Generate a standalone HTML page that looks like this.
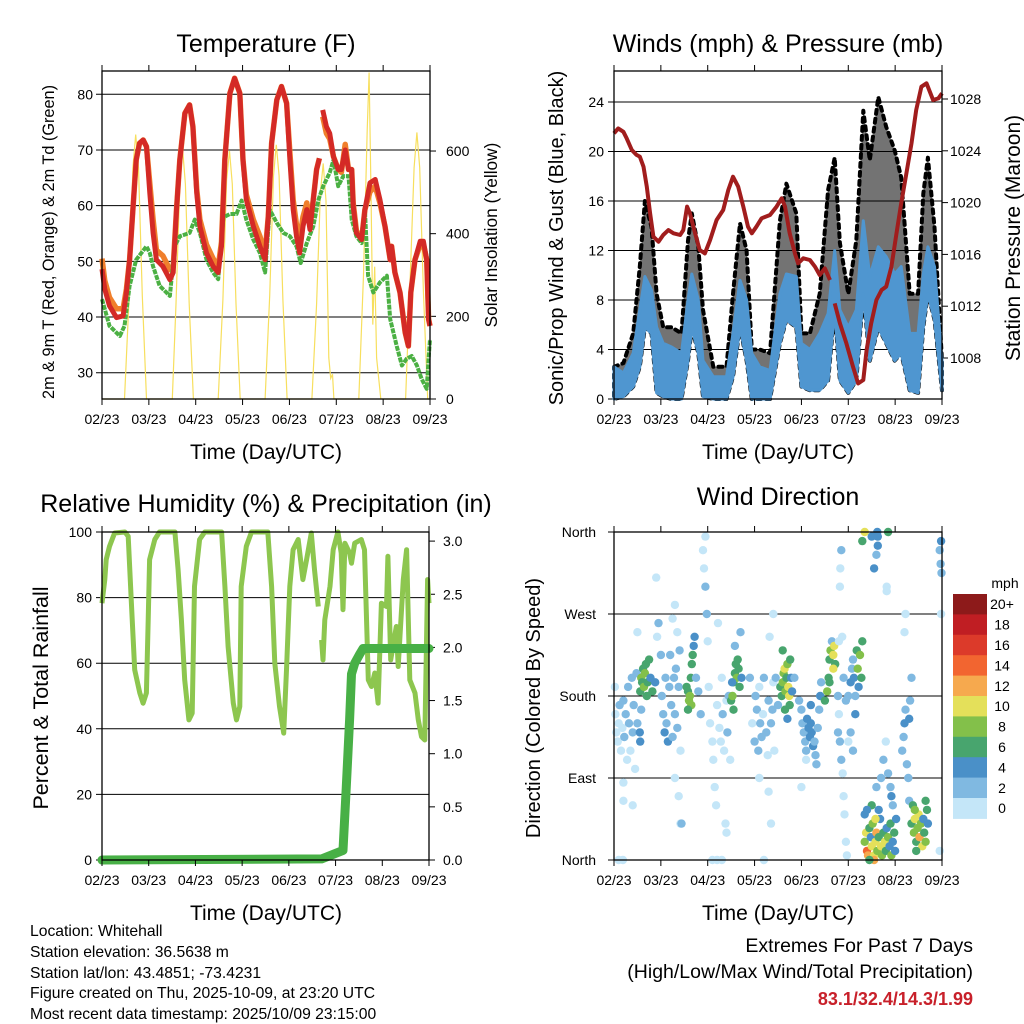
<!DOCTYPE html>
<html><head><meta charset="utf-8">
<style>
html,body{margin:0;padding:0;background:#fff;}
svg{display:block;font-family:"Liberation Sans",Arial,sans-serif;}
</style></head>
<body>
<svg id="chart" width="1024" height="1024" viewBox="0 0 1024 1024" xmlns="http://www.w3.org/2000/svg">
<rect width="1024" height="1024" fill="#fff"/>
<g id="g1"></g>
<g id="g2"></g>
<g id="g3"></g>
<g id="g4"></g>
<text x="266" y="52" font-size="25" text-anchor="middle">Temperature (F)</text>
<text x="778" y="52" font-size="25" text-anchor="middle">Winds (mph) &amp; Pressure (mb)</text>
<text x="266" y="512" font-size="25" text-anchor="middle">Relative Humidity (%) &amp; Precipitation (in)</text>
<text x="778" y="505" font-size="25" text-anchor="middle">Wind Direction</text>
<text x="266" y="459" font-size="21" text-anchor="middle">Time (Day/UTC)</text>
<text x="778" y="459" font-size="21" text-anchor="middle">Time (Day/UTC)</text>
<text x="266" y="920" font-size="21" text-anchor="middle">Time (Day/UTC)</text>
<text x="778" y="920" font-size="21" text-anchor="middle">Time (Day/UTC)</text>
<text transform="translate(54,242) rotate(-90)" font-size="16.3" text-anchor="middle">2m &amp; 9m T (Red, Orange) &amp; 2m Td (Green)</text>
<text transform="translate(497,235) rotate(-90)" font-size="17.3" text-anchor="middle">Solar Insolation (Yellow)</text>
<text transform="translate(563,238) rotate(-90)" font-size="20" text-anchor="middle">Sonic/Prop Wind &amp; Gust (Blue, Black)</text>
<text transform="translate(1020,238) rotate(-90)" font-size="21" text-anchor="middle">Station Pressure (Maroon)</text>
<text transform="translate(48,698) rotate(-90)" font-size="21.5" text-anchor="middle">Percent &amp; Total Rainfall</text>
<text transform="translate(540,708) rotate(-90)" font-size="20" text-anchor="middle">Direction (Colored By Speed)</text>
<g font-size="15.7">
<text x="30" y="936">Location: Whitehall</text>
<text x="30" y="957">Station elevation: 36.5638 m</text>
<text x="30" y="978">Station lat/lon: 43.4851; -73.4231</text>
<text x="30" y="998">Figure created on Thu, 2025-10-09, at 23:20 UTC</text>
<text x="30" y="1019">Most recent data timestamp: 2025/10/09 23:15:00</text>
</g>
<text x="973" y="952" font-size="19.5" text-anchor="end">Extremes For Past 7 Days</text>
<text x="973" y="978" font-size="19.5" text-anchor="end">(High/Low/Max Wind/Total Precipitation)</text>
<text x="973" y="1005" font-size="18" font-weight="bold" fill="#c8202a" text-anchor="end">83.1/32.4/14.3/1.99</text>
</svg>
<script>
// ---------- data ----------
const dayLabels = ["02/23","03/23","04/23","05/23","06/23","07/23","08/23","09/23"];
const tempTicks = [30,40,50,60,70,80];
const solarTicks = [0,200,400,600];
const windTicks = [0,4,8,12,16,20,24];
const pressTicks = [1008,1012,1016,1020,1024,1028];
const rhTicks = [0,20,40,60,80,100];
const rainTicks = ["0.0","0.5","1.0","1.5","2.0","2.5","3.0"];
const dirTicks = ["North","East","South","West","North"];
const speedLabels = ["20+","18","16","14","12","10","8","6","4","2","0"];
const speedColors = ["#8d1a1a","#c01e23","#dc3a2a","#f26530","#f6a94e","#e4e05a","#83c04a","#48a56e","#4a90c8","#80b9e1","#c4e6f8"];

const tDay = [0,.06,.16,.31,.45,.52,.59,.66,.73,.80,.88,.95,1.02,1.09,1.16,1.30,1.45,1.52,1.59,1.66,1.77,1.87,1.94,2.02,2.09,2.23,2.37,2.48,2.55,2.62,2.73,2.83,2.94,3.01,3.08,3.23,3.37,3.48,3.55,3.62,3.73,3.83,3.94,4.01,4.08,4.15,4.22,4.29,4.37,4.44,4.51,4.58,4.64,4.66,4.71,4.79,4.86,4.94,5.04,5.11,5.19,5.26,5.33,5.36,5.43,5.54,5.61,5.72,5.83,5.93,6.04,6.15,6.18,6.25,6.36,6.47,6.54,6.59,6.68,6.79,6.86,6.93,6.97,7.0];
const tRed = [48.6,45.0,42.0,39.9,40.2,44.4,50.3,59.3,68.2,71.2,71.8,70.6,62.3,55.1,50.3,49.1,46.7,48.0,59.3,68.2,76.6,78.1,74.2,62.3,56.3,51.5,49.1,48.0,52.7,68.2,80.2,82.9,80.2,68.2,61.1,56.3,52.7,50.3,58.1,71.2,79.0,81.4,78.4,68.2,59.3,54.5,51.5,56.3,59.3,55.7,61.1,66.5,68.5,null,77.2,74.2,73.0,68.8,66.5,66.5,70.0,66.5,66.5,59.9,55.1,53.9,59.3,64.1,64.7,61.1,56.3,50.3,52.7,48.0,44.4,37.2,34.8,44.4,50.3,53.6,53.6,50.3,39.6,38.4];
const tOrange = [50.5,46.5,43.5,41.5,41.5,45.0,50.3,59.3,68.2,71.2,71.8,70.6,64.0,57.5,52.0,51.0,48.5,49.0,59.3,68.2,76.6,78.1,74.2,63.0,57.5,53.0,50.5,49.0,53.5,68.2,80.2,82.9,80.2,68.2,62.0,57.5,54.5,51.5,58.1,71.2,79.0,81.4,78.4,69.5,61.0,56.5,54.0,58.0,60.5,56.5,61.1,66.5,68.5,null,76.0,73.0,72.0,68.8,66.5,66.0,71.0,66.5,66.5,60.5,55.5,53.9,59.3,62.5,63.5,60.5,56.3,50.3,52.7,48.0,44.4,37.2,34.8,44.4,50.3,53.0,53.0,50.3,39.6,38.4];
const dDay = [0,.16,.38,.48,.59,.73,.95,1.02,1.09,1.23,1.45,1.55,1.66,1.87,1.98,2.09,2.23,2.37,2.48,2.59,2.73,2.87,2.98,3.08,3.23,3.37,3.48,3.58,3.73,3.87,4.01,4.15,4.24,4.37,4.51,4.62,4.72,4.86,4.94,5.04,5.15,5.26,5.33,5.43,5.54,5.61,5.68,5.79,5.93,6.08,6.15,6.29,6.40,6.50,6.61,6.72,6.82,6.93,6.97,7.0];
const tDew = [43.2,38.4,36.6,38.4,45.6,50.3,52.7,51.5,49.1,45.6,43.8,52.7,54.5,55.1,57.5,55.1,50.3,48.0,46.8,57.9,58.5,58.5,60.9,57.5,53.9,51.5,48.0,59.3,56.9,55.1,54.5,52.7,49.7,53.3,56.3,61.1,63.5,65.9,68.2,63.5,65.3,65.3,57.5,54.5,53.3,59.3,47.4,44.4,46.2,47.4,39.6,34.8,31.3,32.5,33.0,31.3,28.9,27.1,32.5,36.0];
const sDay = [0,.48,.58,.66,.72,.78,.86,.95,1.50,1.58,1.66,1.72,1.78,1.86,1.95,2.48,2.58,2.66,2.72,2.78,2.86,2.95,3.48,3.58,3.66,3.72,3.78,3.86,3.95,4.48,4.58,4.66,4.72,4.78,4.84,4.88,4.92,4.95,5.48,5.58,5.66,5.70,5.74,5.78,5.82,5.86,5.95,6.48,6.58,6.66,6.72,6.78,6.86,6.95,7.0];
const solar = [0,0,250,560,640,560,250,0,0,230,520,605,520,230,0,0,240,530,600,520,230,0,0,250,540,615,540,240,0,0,230,500,570,480,100,50,60,0,0,300,650,790,500,180,320,100,0,0,300,560,645,560,260,0,0];

const pDay = [0,.09,.20,.27,.38,.48,.55,.63,.70,.77,.84,.95,1.05,1.16,1.27,1.41,1.48,1.56,1.62,1.73,1.83,1.94,2.05,2.19,2.33,2.44,2.54,2.65,2.76,2.86,2.94,3.04,3.15,3.33,3.47,3.58,3.65,3.75,3.86,3.93,4.04,4.18,4.29,4.39,4.50,4.61,4.66,4.71,4.82,4.96,5.10,5.21,5.32,5.39,5.49,5.60,5.71,5.81,5.92,6.03,6.13,6.24,6.35,6.45,6.56,6.67,6.74,6.81,6.92,7.0];
const pressure = [1025.35,1025.73,1025.47,1024.96,1024.06,1023.68,1023.55,1022.77,1021.23,1019.17,1017.37,1016.98,1017.50,1017.88,1017.63,1017.50,1017.88,1019.69,1019.17,1017.63,1016.34,1016.08,1017.11,1018.66,1019.43,1020.97,1022.00,1021.23,1019.69,1018.14,1017.63,1018.14,1018.79,1019.04,1019.69,1020.33,1019.69,1017.63,1016.08,1015.31,1015.70,1015.57,1015.05,1014.41,1014.92,1014.02,null,1012.22,1010.68,1009.13,1007.33,1006.04,1006.30,1008.62,1010.68,1012.48,1013.25,1013.51,1015.05,1017.63,1019.94,1022.26,1024.58,1027.15,1028.95,1029.21,1028.57,1027.92,1028.05,1028.44];
const wDay = [0,.2,.41,.55,.66,.80,.91,1.05,1.23,1.44,1.58,1.66,1.80,1.90,2.12,2.40,2.54,2.69,2.83,2.94,3.11,3.33,3.54,3.68,3.89,4.00,4.18,4.39,4.57,4.71,4.82,5.00,5.17,5.32,5.46,5.64,5.81,5.99,6.13,6.31,6.49,6.60,6.70,6.84,7.0];
const windHi = [2.6,2.1,3.7,7.2,9.9,8.8,5.8,4.5,4.2,3.7,8.0,10.1,8.0,3.1,1.8,1.8,5.3,9.6,8.0,3.7,2.6,2.3,8.5,10.1,9.9,4.5,4.0,5.3,6.9,12.0,7.2,5.8,7.2,14.4,9.9,12.3,11.5,10.1,10.7,5.3,5.3,10.1,12.3,10.7,3.1];
const windLo = [0,0.2,1.0,2.6,5.8,5.3,0.5,0.2,0,0,3.1,5.8,3.7,0.2,0,0,1.8,5.8,3.1,0,0,0,4.5,6.4,5.8,1.0,0.7,0.7,1.5,7.2,1.5,0.5,1.5,8.5,3.1,5.8,4.5,3.1,3.7,0.7,0.5,5.8,8.5,6.4,0.7];
const gustHi = [2.6,2.9,5.3,10.7,16.0,13.9,8.5,5.8,5.8,5.3,12.8,15.0,12.3,7.2,2.6,2.6,8.5,14.2,12.0,4.0,4.0,3.7,14.4,17.4,15.0,5.3,5.3,8.5,16.9,19.5,12.6,8.5,12.8,23.3,19.3,24.4,22.0,20.1,17.9,8.5,8.5,16.6,19.5,13.9,3.1];

const rDay = [0,.06,.09,.16,.27,.49,.56,.63,.70,.81,.88,.95,.99,1.02,1.13,1.23,1.56,1.63,1.70,1.77,1.86,1.93,1.98,2.09,2.20,2.56,2.63,2.70,2.81,2.88,2.95,2.98,3.09,3.20,3.55,3.63,3.70,3.80,3.89,3.95,4.02,4.09,4.20,4.30,4.38,4.48,4.55,4.63,4.66,4.70,4.73,4.77,4.88,4.95,5.05,5.12,5.16,5.20,5.30,5.34,5.41,5.55,5.62,5.70,5.77,5.84,5.91,5.98,6.09,6.12,6.18,6.30,6.34,6.45,6.52,6.59,6.70,6.77,6.84,6.91,6.97,7.0];
const rh = [78.3,85.5,91.6,95.6,99.7,100,98.7,78.3,58.0,50.9,47.8,50.9,73.2,91.6,97.7,100,100,88.5,73.2,54.9,42.7,44.8,83.4,97.7,100,100,83.4,65.1,47.8,42.7,46.8,83.4,95.6,100,100,83.4,60.0,46.8,38.7,58.0,83.4,94.6,97.7,85.5,91.6,99.7,88.5,77.3,null,67.1,61.0,73.2,83.4,94.6,100,93.6,76.3,96.6,93.6,90.5,96.6,97.7,94.6,54.9,52.9,57.0,47.8,78.3,77.3,92.6,61.0,71.2,59.0,85.5,94.6,54.9,50.9,42.7,37.6,36.6,85.5,78.3];
const rainDay = [0,4.7,5.16,5.23,5.30,5.34,5.41,5.52,5.59,7.0];
const rain = [0,0.01,0.09,0.69,1.32,1.75,1.85,1.94,1.99,1.99];

const dirDay = [0.02,0.03,0.05,0.08,0.1,0.12,0.15,0.18,0.2,0.22,0.25,0.28,0.3,0.32,0.35,0.38,0.4,0.42,0.45,0.48,0.5,0.2,0.2,0.4,0.5,0.1,0.19,
0.56,0.58,0.6,0.62,0.64,0.66,0.68,0.7,0.72,0.75,0.78,0.82,0.88,0.58,0.55,0.56,0.92,0.95,0.9,
1.0,1.02,1.05,1.08,1.1,1.12,1.15,1.18,1.2,1.22,1.25,1.28,1.3,1.32,1.35,1.38,1.4,1.42,1.3,1.38,1.42,1.3,1.35,1.25,1.44,
1.55,1.58,1.6,1.62,1.64,1.66,1.68,1.7,1.72,1.65,1.58,1.75,1.8,1.85,
1.9,1.92,1.95,1.98,2.0,2.02,2.05,2.1,2.12,2.15,2.18,2.2,2.22,2.25,2.28,2.3,2.32,2.35,2.38,2.4,2.42,2.45,2.48,2.1,2.2,2.3,1.95,2.4,
2.5,2.53,2.55,2.58,2.6,2.62,2.64,2.66,2.68,2.55,2.52,2.58,2.7,2.72,
2.9,2.95,3.0,3.02,3.05,3.08,3.1,3.12,3.15,3.18,3.2,3.25,3.28,3.3,3.32,3.35,3.38,3.4,3.42,3.45,3.5,3.3,3.35,3.4,3.1,3.2,
3.55,3.58,3.6,3.62,3.64,3.66,3.68,3.7,3.72,3.74,3.76,3.78,3.8,3.85,3.65,3.7,3.75,3.6,
3.95,4.0,4.02,4.05,4.08,4.1,4.12,4.15,4.18,4.2,4.22,4.25,4.28,4.3,4.32,4.35,4.38,4.4,4.42,4.1,4.2,4.0,
4.5,4.55,4.58,4.6,4.62,4.65,4.68,4.7,4.72,4.68,4.6,
4.78,4.8,4.82,4.85,4.88,4.9,4.92,4.95,4.97,4.8,4.82,4.83,4.85,4.87,4.9,4.95,4.78,
5.0,5.05,5.08,5.1,5.12,5.15,5.18,5.2,5.22,5.25,5.28,5.3,5.0,5.05,5.1,5.15,
5.35,5.38,5.4,5.42,5.45,5.48,5.5,5.52,5.55,5.58,5.6,5.62,5.65,5.68,5.7,5.72,5.75,5.78,5.8,5.82,5.85,5.88,5.9,5.92,5.95,5.98,6.0,6.02,5.5,5.58,5.4,5.65,5.55,5.45,5.35,
5.3,5.35,5.5,5.62,5.63,5.63,5.6,5.85,5.55,5.82,5.82,
5.6,5.7,5.75,5.8,5.85,5.9,5.92,5.95,
6.15,6.18,6.2,6.22,6.25,6.28,6.3,6.32,6.35,6.2,6.22,6.3,6.35,6.4,6.42,6.45,6.48,6.5,6.52,6.55,6.58,6.6,6.62,6.65,6.68,6.7,6.38,6.45,6.42,6.65,
6.95,6.97,6.98,6.99,6.98,6.95];
const dirDeg = [190,160,140,130,150,170,120,145,175,135,160,110,190,150,120,200,140,170,100,205,150,85,65,60,250,0,0,
185,200,195,210,190,205,215,180,195,220,200,185,195,165,140,130,245,260,310,
225,180,160,140,200,150,130,190,225,170,135,200,160,210,145,190,230,120,90,70,40,280,250,265,40,
190,185,175,180,200,215,225,235,245,170,165,200,185,160,
340,320,300,270,240,190,150,130,110,80,60,170,260,145,130,200,160,120,40,175,140,180,110,0,0,0,355,30,
175,180,195,205,215,200,220,210,190,165,195,235,250,200,
200,150,130,180,165,120,190,150,135,160,200,140,115,175,245,150,165,195,120,200,170,75,40,270,90,0,
190,180,195,205,210,185,200,215,190,180,220,200,185,200,165,155,170,230,
175,165,150,140,130,120,155,145,135,150,140,125,130,115,105,145,165,180,195,110,170,80,
175,185,200,220,230,240,225,235,215,210,195,
180,160,130,110,95,70,50,20,5,240,300,320,340,245,200,175,140,
180,195,210,220,200,180,230,210,190,225,200,240,130,140,120,160,
20,30,10,5,35,25,15,40,5,20,30,10,25,45,15,5,30,20,10,35,25,15,40,5,20,30,10,45,60,45,55,55,0,0,50,
350,360,355,360,355,345,335,360,320,300,295,
80,90,110,130,95,80,70,60,
120,135,150,165,105,90,155,175,200,250,270,65,40,30,45,20,35,50,25,40,15,45,30,20,55,40,60,10,55,65,
340,325,350,315,270,10];
const dirSpeed = [1,0,0,1,1,2,1,0,2,2,2,0,2,3,1,3,2,2,1,3,2,0,0,0,0,0,0,
6,8,7,7,8,9,7,6,7,6,5,7,5,3,5,5,1,2,0,
3,2,2,4,2,3,4,2,3,2,3,2,3,2,3,2,2,1,0,0,0,0,1,0,3,
6,7,8,9,7,6,6,4,4,8,7,3,2,2,
0,0,2,3,1,0,1,0,0,0,0,1,1,0,1,0,2,0,0,1,2,2,0,0,0,0,0,0,
6,9,6,7,6,8,6,7,6,6,4,3,2,4,
2,1,2,2,3,2,1,2,2,1,2,2,1,3,1,2,2,1,0,3,2,0,0,0,0,0,
6,7,9,8,10,9,7,8,10,11,7,5,4,3,6,5,7,6,
3,2,3,2,3,2,4,4,4,4,5,4,3,3,2,2,3,4,3,1,5,0,
6,8,7,6,9,3,11,10,6,10,7,
2,1,2,2,1,1,0,0,0,0,0,0,2,1,3,2,3,
2,4,3,3,4,3,7,8,5,9,6,6,1,2,2,4,
8,10,14,12,6,4,10,8,10,10,12,8,6,4,10,8,6,10,6,4,8,4,6,8,4,6,4,4,6,10,4,4,12,6,4,
6,10,4,4,4,4,2,6,4,0,0,
3,3,2,1,3,3,4,2,
3,3,4,3,3,2,4,2,2,1,1,3,6,8,10,6,8,10,12,8,10,4,6,8,6,4,6,6,8,6,
3,3,4,2,0,0];

// ---------- helpers ----------
const NS = "http://www.w3.org/2000/svg";
function mk(parent, tag, attrs){
  const e = document.createElementNS(NS, tag);
  for (const k in attrs) e.setAttribute(k, attrs[k]);
  parent.appendChild(e);
  return e;
}
function pathFrom(xs, ys, fx, fy){
  let d = "", pen = false;
  for (let i=0;i<xs.length;i++){
    if (ys[i]===null){pen=false;continue;}
    d += (pen?"L":"M") + fx(xs[i]).toFixed(1) + "," + fy(ys[i]).toFixed(1);
    pen = true;
  }
  return d;
}
function bandFrom(xs, lo, hi, fx, fy){
  let d = "";
  for (let i=0;i<xs.length;i++) d += (i?"L":"M") + fx(xs[i]).toFixed(1) + "," + fy(hi[i]).toFixed(1);
  for (let i=xs.length-1;i>=0;i--) d += "L" + fx(xs[i]).toFixed(1) + "," + fy(lo[i]).toFixed(1);
  return d + "Z";
}
function frame(g, L, R, T, B){
  const x = d => L + d*(R-L)/7;
  for (let i=0;i<dayLabels.length;i++){
    const xx = x(i);
    const tk = mk(g,"line",{x1:xx,x2:xx,y1:B,y2:B+6,stroke:"#000","stroke-width":1});
    
    
    const tt = mk(g,"line",{x1:xx,x2:xx,y1:T,y2:T-6,stroke:"#000","stroke-width":1});
    
    
    const lb = mk(g,"text",{x:xx,y:B+25,"font-size":14,"text-anchor":"middle"});
    lb.textContent = dayLabels[i];
    
    
  }
  const box = mk(g,"rect",{x:L,y:T,width:R-L,height:B-T,fill:"none",stroke:"#000","stroke-width":1.3});
  
  
  return x;
}
function hgrid(g, L, R, y, left){
  const ln = mk(g,"line",{x1:left?L-6:L,x2:R,y1:y,y2:y,stroke:"#000","stroke-width":1});
  
  
}
function label(g, x, y, txt, anchor, name){
  const t = mk(g,"text",{x:x,y:y+5,"font-size":14,"text-anchor":anchor});
  t.textContent = txt;
  
  
}

// ---------- Panel 1: temperature ----------
(function(){
  const g = document.getElementById("g1");
  const L=102,R=430,T=71,B=399;
  const yT = v => 372.7 - (v-30)*5.568;
  const yS = v => B - v*0.4133;
  const x = d => L + d*(R-L)/7;
  tempTicks.forEach(v=>{hgrid(g,L,R,yT(v),true);label(g,L-9,yT(v),String(v),"end","temp-tick-label");});
  solarTicks.forEach(v=>{const t=mk(g,"line",{x1:R,x2:R+6,y1:yS(v),y2:yS(v),stroke:"#000"});
    
    
    label(g,R+16,yS(v),String(v),"start","solar-tick-label");});
  const s = mk(g,"path",{d:pathFrom(sDay,solar,x,yS),fill:"none",stroke:"#f7df5e","stroke-width":1.2});
  
  
  const o = mk(g,"path",{d:pathFrom(tDay,tOrange,x,yT),fill:"none",stroke:"#f07f2c","stroke-width":5.5,"stroke-linejoin":"round"});
  
  
  const gr = mk(g,"path",{d:pathFrom(dDay,tDew,x,yT),fill:"none",stroke:"#4bb043","stroke-width":4,"stroke-dasharray":"5 1","stroke-linejoin":"round"});
  
  
  const r = mk(g,"path",{d:pathFrom(tDay,tRed,x,yT),fill:"none",stroke:"#d42a26","stroke-width":5,"stroke-linejoin":"round"});
  
  
  frame(g,L,R,T,B);
})();

// ---------- Panel 2: winds & pressure ----------
(function(){
  const g = document.getElementById("g2");
  const L=614,R=942,T=71,B=399;
  const yW = v => B - v*12.375;
  const yP = v => 358 - (v-1008)*12.95;
  const x = d => L + d*(R-L)/7;
  windTicks.forEach(v=>{hgrid(g,L,R,yW(v),true);label(g,L-10,yW(v),String(v),"end","wind-tick-label");});
  pressTicks.forEach(v=>{const t=mk(g,"line",{x1:R,x2:R+6,y1:yP(v),y2:yP(v),stroke:"#000"});
    
    
    label(g,R+8,yP(v),String(v),"start","pressure-tick-label");});
  const gu = mk(g,"path",{d:bandFrom(wDay,windLo,gustHi,x,yW),fill:"#000","fill-opacity":0.55,stroke:"#000","stroke-width":4,"stroke-dasharray":"4 5","stroke-linecap":"round","stroke-linejoin":"round"});
  
  
  const bw = mk(g,"path",{d:bandFrom(wDay,windLo,windHi,x,yW),fill:"#4f96d0",stroke:"#4f96d0","stroke-width":3,"stroke-linejoin":"round"});
  
  
  const p = mk(g,"path",{d:pathFrom(pDay,pressure,x,yP),fill:"none",stroke:"#a11d1d","stroke-width":4,"stroke-linejoin":"round"});
  
  
  frame(g,L,R,T,B);
})();

// ---------- Panel 3: humidity & rain ----------
(function(){
  const g = document.getElementById("g3");
  const L=102,R=429,T=532,B=860;
  const yH = v => B - v*3.28;
  const yR = v => B - v*106.3;
  const x = d => L + d*(R-L)/7;
  rhTicks.forEach(v=>{hgrid(g,L,R,yH(v),true);label(g,L-10,yH(v),String(v),"end","rh-tick-label");});
  rainTicks.forEach(v=>{const yy=yR(parseFloat(v));const t=mk(g,"line",{x1:R,x2:R+6,y1:yy,y2:yy,stroke:"#000"});
    
    
    label(g,R+14,yy,v,"start","rain-tick-label");});
  const h = mk(g,"path",{d:pathFrom(rDay,rh,x,yH),fill:"none",stroke:"#8dc64f","stroke-width":5,"stroke-linejoin":"round"});
  
  
  const rn = mk(g,"path",{d:pathFrom(rainDay,rain,x,yR),fill:"none",stroke:"#48b046","stroke-width":9,"stroke-linejoin":"round","stroke-linecap":"round"});
  
  
  frame(g,L,R,T,B);
})();

// ---------- Panel 4: wind direction ----------
(function(){
  const g = document.getElementById("g4");
  const L=614,R=942,T=532,B=860;
  const yD = v => B - v*0.9111;
  const x = d => L + d*(R-L)/7;
  dirTicks.forEach((v,i)=>{hgrid(g,L,R,yD(i*90),true);label(g,L-18,yD(i*90),v,"end","direction-tick-label");});
  for (let i=0;i<dirDay.length;i++){
    const bin = Math.min(10, Math.floor(dirSpeed[i]/2));
    const c = mk(g,"circle",{cx:x(dirDay[i]).toFixed(1),cy:yD(dirDeg[i]).toFixed(1),r:4.2,fill:speedColors[10-bin]});
    
    
  }
  frame(g,L,R,T,B);
  const cb0 = 594, h = 20.4;
  for (let i=0;i<speedColors.length;i++){
    const r = mk(g,"rect",{x:953,y:cb0+i*h,width:34,height:h+0.5,fill:speedColors[i]});
    
    
    const t = mk(g,"text",{x:1002,y:cb0+i*h+h/2+5,"font-size":14,"text-anchor":"middle"});
    t.textContent = speedLabels[i];
    
    
  }
  const u = mk(g,"text",{x:1005,y:588,"font-size":14,"text-anchor":"middle"});
  u.textContent = "mph";
  
  
})();
</script>
</body></html>
